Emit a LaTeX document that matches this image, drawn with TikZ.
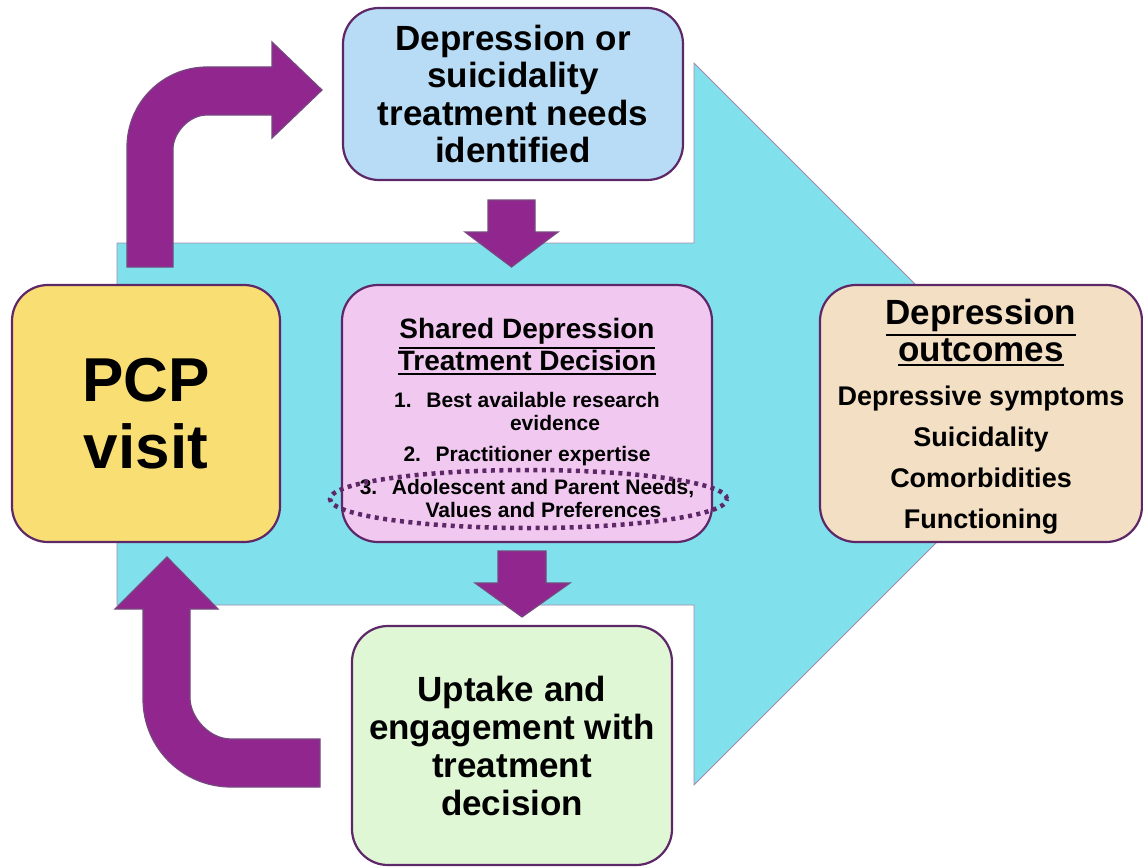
\documentclass[tikz,border=0pt]{standalone}
\usepackage{fontspec}
\setmainfont{Liberation Sans}
\usepackage{tikz}
\usetikzlibrary{arrows.meta,positioning,calc}
\definecolor{flowcyan}{RGB}{128,224,236}
\definecolor{arrowpurple}{RGB}{146,38,143}
\definecolor{edgepurple}{RGB}{94,40,104}
\definecolor{pcpyellow}{RGB}{249,222,116}
\definecolor{needblue}{RGB}{184,220,245}
\definecolor{sharedpink}{RGB}{241,201,240}
\definecolor{outtan}{RGB}{242,223,196}
\definecolor{uptakegreen}{RGB}{224,247,214}
% thicker underline for the box headings
\newcommand{\headul}[1]{\setbox0\hbox{#1}\leavevmode\rlap{\vrule width\wd0 height\dimexpr-\dp0-2pt\relax depth\dimexpr\dp0+4.5pt\relax}\box0}

\begin{document}
\begin{tikzpicture}[x=1pt,y=-1pt,
 card/.style={draw=edgepurple,line width=2.2pt,rounded corners=36pt,align=center,inner sep=0pt},
 blockarrow/.style={fill=arrowpurple,draw=edgepurple!85,line width=1.2pt,line join=miter},
 bigflow/.style={fill=flowcyan,draw=edgepurple!55,line width=0.8pt},
 dotring/.style={draw=edgepurple,line width=4.5pt,dash pattern=on 4pt off 4.5pt}]
\useasboundingbox (0,0) rectangle (1143,867);
% big flow arrow behind everything
\draw[bigflow] (117,243) -- (694,243) -- (694,63) -- (1055,424) -- (694,785) -- (694,605) -- (117,605) -- cycle;

\node[card,fill=pcpyellow,minimum width=268pt,minimum height=257pt,
 font=\bfseries\fontsize{62}{67}\selectfont] (pcp) at (146,413.5) {PCP\\visit};
\node[card,fill=needblue,minimum width=340pt,minimum height=172pt,
 font=\bfseries\fontsize{35}{37.5}\selectfont] (needs) at (513,94) {Depression or\\suicidality\\treatment needs\\identified};
\node[card,fill=sharedpink,minimum width=370pt,minimum height=257pt,
 font=\bfseries\fontsize{21}{23}\selectfont] (shared) at (527,413.5)
 {{\fontsize{28}{30}\selectfont\rule{0pt}{29.5pt}\headul{Shared Depression}}\\[0pt]
  {\fontsize{28}{30}\selectfont\headul{Treatment Decision}}\\[14pt]
  1.\hspace{0.7em}Best available research\\
  \hspace*{56pt}evidence\\[8pt]
  2.\hspace{0.7em}Practitioner expertise\\[10pt]
  3.\hspace{0.7em}Adolescent and Parent Needs,\\
  \hspace*{33pt}Values and Preferences};
\node[card,fill=outtan,minimum width=322pt,minimum height=257pt,
 font=\bfseries\fontsize{27}{41}\selectfont] (outcome) at (981,413.5)
 {{\fontsize{35}{38}\selectfont\rule{0pt}{32pt}\headul{Depression}}\\[-4pt]
  {\fontsize{35}{38}\selectfont\headul{outcomes}}\\[3pt]
  Depressive symptoms\\Suicidality\\Comorbidities\\Functioning};
\node[card,fill=uptakegreen,minimum width=320pt,minimum height=239pt,
 font=\bfseries\fontsize{35}{38}\selectfont] (uptake) at (512,745.5) {Uptake and\\engagement with\\treatment\\decision};

% loop arrows
\draw[blockarrow] (127,267) -- (127,147) .. controls (127,102.8) and (162.8,67) .. (207,67)
 -- (272,67) -- (272,42) -- (322,90) -- (272,138) -- (272,115) -- (207,115)
 .. controls (188.2,115) and (173,133.8) .. (173,149) -- (173,267) -- cycle;
\draw[blockarrow] (320,787) -- (231,787) .. controls (182.4,787) and (143,747.6) .. (143,699)
 -- (143,609) -- (115,609) -- (167,557) -- (218,609) -- (190,609) -- (190,698)
 .. controls (190,716.4) and (208.4,739) .. (231,739) -- (320,739) -- cycle;
\draw[blockarrow] (488,200) -- (535,200) -- (535,232) -- (558,232) -- (511.5,267) -- (465,232) -- (488,232) -- cycle;
\draw[blockarrow] (498,551) -- (546,551) -- (546,583) -- (570,583) -- (522,617) -- (475,583) -- (498,583) -- cycle;

\draw[dotring] (528.5,499) ellipse [x radius=198.5pt,y radius=29pt];
\end{tikzpicture}
\end{document}
